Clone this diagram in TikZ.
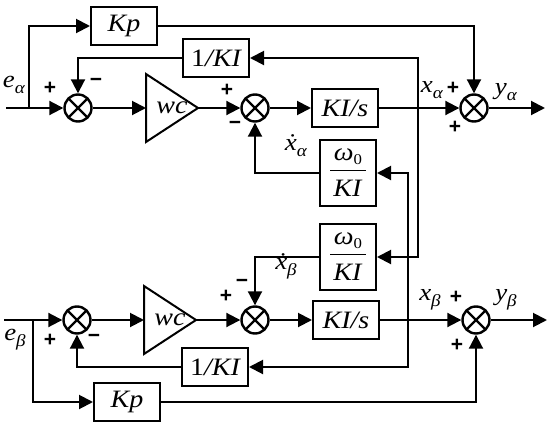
\documentclass[tikz,border=0pt]{standalone}
\usepackage{fontspec}
\setmainfont[FakeStretch=1.12]{Liberation Serif}
\newfontfamily\sgnfont{Liberation Sans}
\usetikzlibrary{arrows.meta}
\newcommand{\lsub}[2]{\textit{#1}\raisebox{-6pt}{\fontsize{17}{17}\selectfont\textit{#2}}}
\newcommand{\wfrac}{\begin{tabular}{@{\hspace{3pt}}c@{\hspace{3pt}}}\textit{ω}\raisebox{-4pt}{\fontsize{15}{15}\selectfont 0}\\[1pt]\hline\rule{0pt}{25pt}\textit{KI}\end{tabular}}
\setlength{\arrayrulewidth}{1.5pt}

\begin{document}
\begin{tikzpicture}[x=1pt,y=-1pt,line width=2pt,>={Triangle[length=14pt,width=14pt]},
blk/.style={draw,minimum width=66pt,minimum height=38pt,inner sep=0pt,font=\fontsize{25}{27}\selectfont\itshape},
fracbox/.style={draw,minimum width=56pt,minimum height=66pt,inner sep=0pt,font=\fontsize{25}{27}\selectfont},
amp/.style={minimum width=50pt,minimum height=66pt,inner sep=0pt,font=\fontsize{25}{27}\selectfont\itshape},
sumnode/.style={draw,circle,line width=2.4pt,minimum size=27pt,inner sep=0pt,path picture={\draw (path picture bounding box.north west)--(path picture bounding box.south east) (path picture bounding box.north east)--(path picture bounding box.south west);}},
lbl/.style={font=\fontsize{24}{26}\selectfont,inner sep=0pt},
sgn/.style={font=\sgnfont\bfseries\fontsize{21}{21}\selectfont,inner sep=0pt}]
\useasboundingbox (0,0) rectangle (550,426);
% alpha channel
\coordinate (inA) at (6,108);
\coordinate (brA) at (29,108);
\node[blk] (kpA) at (124,26) {Kp};
\node[blk] (invA) at (216,58) {{\upshape 1}/KI};
\node[sumnode] (sumA1) at (78,108) {};
\node[amp] (wcA) at (172,108) {wc\hspace{12pt}};
\draw (wcA.north west)--(wcA.east)--(wcA.south west)--cycle;
\node[sumnode] (sumA2) at (255,108) {};
\node[blk] (intA) at (345,108) {KI/s};
\node[fracbox] (fbA) at (348,173) {\wfrac};
\node[sumnode] (sumA3) at (474,108) {};
\coordinate (xA) at (418,108);
\coordinate (outA) at (545,108);
% beta channel
\coordinate (inB) at (4,320);
\coordinate (brB) at (33,320);
\node[sumnode] (sumB1) at (77,320) {};
\node[amp] (wcB) at (170,320) {wc\hspace{12pt}};
\draw (wcB.north west)--(wcB.east)--(wcB.south west)--cycle;
\node[sumnode] (sumB2) at (255,320) {};
\node[blk] (intB) at (346,320) {KI/s};
\node[fracbox] (fbB) at (348,257) {\wfrac};
\node[blk] (invB) at (215,367) {{\upshape 1}/KI};
\node[blk] (kpB) at (127,402) {Kp};
\node[sumnode] (sumB3) at (476,320) {};
\coordinate (xB) at (408,320);
\coordinate (outB) at (547,320);
% labels
\node[lbl] (eA) at (14,85) {\lsub{e}{α}};
\node[lbl] (dxA) at (296,146) {\lsub{\.{x}}{α}};
\node[lbl] (xAl) at (432,90) {\lsub{x}{α}};
\node[lbl] (yA) at (506,92) {\lsub{y}{α}};
\node[lbl] (eB) at (15,340) {\lsub{e}{β}};
\node[lbl] (dxB) at (286,266) {\lsub{\.{x}}{β}};
\node[lbl] (xBl) at (430,300) {\lsub{x}{β}};
\node[lbl] (yB) at (506,300) {\lsub{y}{β}};
\node[sgn] (pA1) at (50,88) {+};\node[sgn] (mA1) at (96,82) {−};
\node[sgn] (pA2) at (227,90) {+};\node[sgn] (mA2) at (235,125) {−};
\node[sgn] (pA3) at (453,88) {+};\node[sgn] (qA3) at (455,127) {+};
\node[sgn] (pB1) at (50,340) {+};\node[sgn] (mB1) at (94,338) {−};
\node[sgn] (pB2) at (226,296) {+};\node[sgn] (mB2) at (242,283) {−};
\node[sgn] (pB3) at (456,297) {+};\node[sgn] (qB3) at (457,345) {+};
% connectors
\draw[->] (inA)--(sumA1);\draw[->] (brA)|-(kpA);\draw[->] (kpA)-|(sumA3);
\draw[->] (invA)-|(sumA1);\draw[->] (sumA1)--(wcA);\draw[->] (wcA)--(sumA2);
\draw[->] (sumA2)--(intA);\draw[->] (intA)--(sumA3);\draw[->] (sumA3)--(outA);
\draw[->] (fbA)-|(sumA2);
\draw[->] (inB)--(sumB1);\draw[->] (brB)|-(kpB);\draw[->] (kpB)-|(sumB3);
\draw[->] (invB)-|(sumB1);\draw[->] (sumB1)--(wcB);\draw[->] (wcB)--(sumB2);
\draw[->] (sumB2)--(intB);\draw[->] (intB)--(sumB3);\draw[->] (sumB3)--(outB);
\draw[->] (fbB)-|(sumB2);
\draw[->] (xA)|-(invA);\draw[->] (xA)|-(fbB);
\draw[->] (xB)|-(fbA);\draw[->] (xB)|-(invB);
\end{tikzpicture}
\end{document}
